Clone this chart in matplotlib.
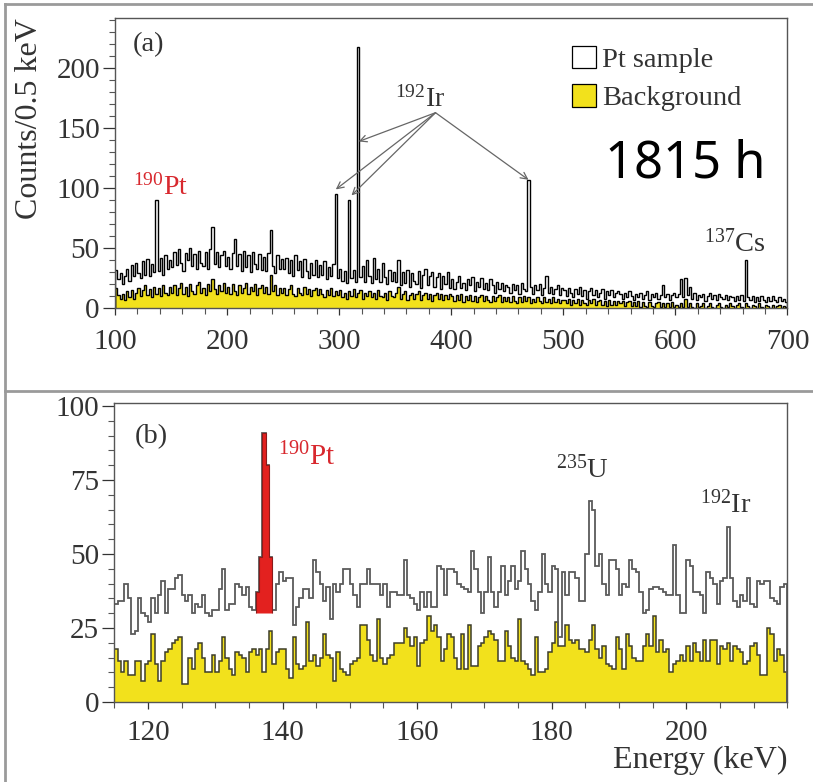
import numpy as np
import matplotlib
matplotlib.use('Agg')
import matplotlib.pyplot as plt
from matplotlib.patches import Patch
from matplotlib.lines import Line2D
from matplotlib.ticker import MultipleLocator

# ---- panel (a): 100-700 keV, values read per 2 keV step (counts / 0.5 keV)
e_a_lo, e_a_hi, e_a_step = 100, 700, 2
pt_a = [
    32, 24, 29, 20, 27, 33, 23, 36, 27, 38, 29, 25, 39, 28, 41, 27, 37, 30, 90, 31, 42, 28, 44, 33, 40,
    34, 47, 36, 49, 38, 31, 46, 40, 50, 35, 45, 33, 48, 38, 35, 47, 33, 49, 68, 37, 47, 34, 44, 48, 35,
    43, 33, 46, 58, 35, 45, 31, 48, 34, 44, 30, 47, 37, 33, 45, 32, 43, 31, 46, 65, 35, 29, 44, 33, 41,
    33, 42, 29, 40, 27, 44, 32, 39, 26, 41, 31, 25, 38, 28, 40, 26, 36, 28, 39, 24, 34, 27, 37, 95, 25,
    33, 23, 31, 21, 90, 25, 32, 22, 218, 26, 35, 22, 40, 27, 21, 42, 24, 33, 22, 38, 26, 20, 32, 23, 30,
    22, 40, 19, 30, 21, 32, 18, 29, 23, 20, 31, 17, 28, 33, 19, 27, 30, 18, 26, 29, 16, 27, 20, 30, 17,
    24, 16, 22, 27, 17, 21, 15, 24, 19, 26, 14, 22, 18, 25, 16, 21, 15, 24, 19, 13, 22, 16, 21, 14, 19,
    18, 13, 20, 15, 19, 12, 21, 16, 14, 107, 18, 12, 19, 15, 20, 11, 17, 27, 13, 18, 12, 16, 19, 11, 17,
    15, 10, 17, 13, 9, 16, 12, 18, 10, 15, 8, 14, 17, 11, 15, 9, 13, 16, 8, 14, 11, 15, 9, 13, 14,
    12, 8, 13, 9, 14, 10, 7, 12, 9, 13, 8, 11, 14, 7, 12, 9, 13, 8, 11, 19, 9, 12, 7, 11, 13,
    9, 12, 24, 9, 25, 11, 18, 8, 13, 7, 11, 9, 12, 6, 10, 13, 8, 11, 7, 12, 9, 8, 11, 7, 10,
    9, 6, 10, 7, 11, 6, 40, 9, 7, 10, 5, 9, 6, 10, 7, 5, 9, 6, 10, 7, 5, 9, 6, 8, 5,
]
bg_a = [
    17, 11, 8, 12, 7, 14, 9, 15, 8, 13, 17, 10, 15, 19, 11, 16, 9, 18, 12, 17, 10, 19, 13, 11, 18,
    13, 19, 11, 17, 21, 12, 18, 10, 20, 14, 12, 19, 22, 13, 17, 11, 20, 14, 24, 16, 12, 19, 14, 21, 13,
    18, 12, 20, 14, 11, 19, 13, 17, 21, 12, 18, 14, 20, 11, 17, 19, 13, 18, 12, 28, 14, 19, 11, 17, 13,
    17, 11, 16, 19, 12, 10, 17, 13, 11, 18, 12, 16, 10, 15, 17, 11, 16, 12, 9, 15, 11, 17, 10, 14, 11,
    15, 9, 13, 8, 14, 10, 16, 9, 13, 15, 8, 13, 10, 14, 9, 13, 8, 15, 10, 9, 13, 7, 14, 10, 9,
    13, 18, 8, 12, 14, 7, 11, 13, 8, 12, 14, 7, 11, 13, 8, 12, 6, 11, 13, 8, 12, 7, 11, 8, 12,
    10, 6, 11, 7, 12, 5, 10, 7, 11, 6, 10, 5, 9, 11, 6, 10, 7, 5, 10, 6, 9, 11, 5, 9, 6,
    9, 5, 10, 6, 4, 9, 5, 10, 6, 9, 4, 8, 5, 9, 6, 4, 9, 5, 8, 4, 9, 5, 8, 4, 7,
    7, 4, 8, 3, 7, 4, 8, 3, 7, 4, 3, 7, 4, 8, 3, 6, 7, 3, 6, 2, 7, 3, 6, 3, 6,
    4, 6, 2, 5, 6, 2, 5, 2, 6, 1, 5, 2, 1, 5, 2, 1, 4, 5, 1, 4, 1, 4, 1, 5, 1,
    3, 1, 4, 1, 8, 1, 4, 1, 0, 4, 1, 2, 4, 0, 2, 4, 1, 0, 3, 4, 1, 0, 3, 1, 4,
    2, 0, 3, 4, 1, 0, 4, 2, 0, 3, 2, 0, 4, 1, 0, 3, 2, 0, 3, 0, 2, 3, 0, 2, 1,
]

# ---- panel (b): 115-215 keV, 0.5 keV bins
e_b_lo, e_b_hi, e_b_step = 115, 215, 0.5
pt_b = [
    33, 34, 34, 40, 35, 23, 24, 35, 30, 29, 27, 35, 30, 36, 41, 30, 38, 38, 42, 43,
    36, 34, 36, 30, 33, 32, 36, 30, 29, 31, 31, 38, 45, 31, 33, 33, 40, 39, 36, 39,
    32, 31, 37, 49, 91, 80, 49, 31, 40, 44,
    41, 42, 42, 26, 32, 35, 38, 38, 35, 48, 44, 40, 34, 39, 28, 40, 37, 40, 45, 45,
    40, 36, 32, 40, 40, 45, 40, 40, 40, 36, 40, 32, 37, 37, 36, 36, 48, 36, 35, 33,
    31, 37, 32, 37, 32, 32, 46, 45, 36, 45,
    45, 44, 40, 39, 38, 37, 51, 45, 37, 30, 37, 49, 37, 32, 37, 46, 36, 41, 46, 38,
    41, 51, 45, 40, 34, 31, 37, 50, 40, 37, 46, 45, 22, 44, 36, 44, 44, 42, 34, 34,
    50, 68, 65, 46, 50, 40, 36, 48, 48, 45,
    36, 40, 39, 48, 45, 44, 37, 30, 31, 38, 39, 39, 38, 37, 36, 36, 53, 36, 30, 30,
    48, 46, 37, 37, 36, 30, 44, 42, 40, 33, 41, 42, 59, 42, 34, 32, 36, 34, 42, 33,
    32, 41, 40, 41, 41, 35, 34, 33, 39, 40,
]
bg_b = [
    18, 14, 10, 14, 9, 9, 14, 14, 7, 13, 14, 23, 13, 7, 14, 17, 18, 20, 21, 22,
    6, 6, 15, 11, 18, 20, 15, 10, 10, 16, 10, 14, 22, 15, 11, 9, 17, 16, 15, 10,
    17, 18, 16, 18, 10, 18, 24, 13, 17, 18,
    18, 11, 8, 22, 13, 11, 12, 27, 14, 16, 12, 15, 23, 16, 15, 7, 17, 11, 10, 9,
    13, 14, 15, 26, 26, 21, 16, 14, 28, 15, 13, 15, 16, 20, 20, 20, 25, 22, 19, 22,
    12, 20, 21, 29, 24, 26, 22, 14, 18, 23,
    22, 15, 11, 23, 11, 26, 12, 12, 19, 20, 22, 24, 23, 21, 14, 14, 24, 19, 15, 14,
    28, 14, 13, 11, 9, 22, 10, 10, 11, 17, 20, 27, 19, 19, 26, 21, 20, 21, 18, 18,
    17, 21, 26, 18, 15, 19, 13, 12, 11, 22,
    18, 11, 23, 19, 15, 14, 14, 19, 23, 19, 29, 17, 21, 17, 18, 10, 13, 14, 16, 14,
    19, 14, 20, 17, 14, 21, 14, 21, 21, 13, 19, 18, 20, 14, 19, 18, 17, 13, 14, 19,
    20, 16, 9, 9, 25, 23, 14, 18, 16, 10,
]
# 190Pt line region highlighted in (b)
pt190_lo, pt190_hi, pt190_base = 136.0, 138.5, 30

# 192Ir lines pointed at in (a): (energy, counts) of the arrow tips
ir_tips = [(317.5, 139), (297, 99), (311, 94)]
ir_tip_right = (469, 107)

YELLOW = '#f2e11c'
RED = '#e3211f'
TXT_RED = '#d8282e'
GRID = '#555555'

plt.rcParams['font.family'] = 'serif'
plt.rcParams['font.serif'] = ['Liberation Serif', 'DejaVu Serif']
plt.rcParams['mathtext.default'] = 'regular'

fig = plt.figure(figsize=(8.13, 7.82), dpi=100)
ax_a = fig.add_axes([0.1415, 0.606, 0.827, 0.371])
ax_b = fig.add_axes([0.1407, 0.1023, 0.8275, 0.3824])

edges_a = np.arange(e_a_lo, e_a_hi + e_a_step / 2, e_a_step)
edges_b = np.arange(e_b_lo, e_b_hi + e_b_step / 2, e_b_step)

# panel (a)
ax_a.stairs(bg_a, edges_a, fill=True, color=YELLOW, lw=0)
ax_a.stairs(pt_a, edges_a, color='black', lw=1.0)
ax_a.stairs(bg_a, edges_a, color='black', lw=1.0)
ax_a.set_xlim(100, 700)
ax_a.set_ylim(0, 242)
ax_a.xaxis.set_major_locator(MultipleLocator(100))
ax_a.xaxis.set_minor_locator(MultipleLocator(20))
ax_a.yaxis.set_major_locator(MultipleLocator(50))
ax_a.yaxis.set_minor_locator(MultipleLocator(10))
ax_a.set_ylabel('Counts/0.5 keV', fontsize=23, color='#333333', loc='top')
ax_a.yaxis.set_label_coords(-0.106, 1.0)

ax_a.text(116, 220, '(a)', fontsize=20.5, color='#333333', ha='left', va='center')
ax_a.text(116, 101, '$^{190}$Pt', fontsize=20, color=TXT_RED, ha='left', va='center')
ax_a.text(372, 174, '$^{192}$Ir', fontsize=20, color='#333333', ha='center', va='center')
ax_a.text(653, 54, '$^{137}$Cs', fontsize=20.5, color='#333333', ha='center', va='center')
apex = (386, 163)
for tip in ir_tips + [ir_tip_right]:
    ax_a.annotate('', xy=tip, xytext=apex,
                  arrowprops=dict(arrowstyle='->', color='#666666', lw=0.9,
                                  shrinkA=0, shrinkB=0, mutation_scale=12))
ax_a.text(0.728, 0.495, '1815 h', transform=ax_a.transAxes, fontsize=36.5,
          family='Noto Sans', ha='left', va='center', color='black')
ax_a.legend(handles=[Patch(facecolor='white', edgecolor='black', lw=0.9),
                     Patch(facecolor=YELLOW, edgecolor='black', lw=0.9)],
            labels=['Pt sample', 'Background'], loc='upper left',
            bbox_to_anchor=(0.68, 0.905), frameon=False, fontsize=20.5,
            handlelength=0.85, handleheight=0.85, handletextpad=0.2,
            labelspacing=0.4, borderpad=0, borderaxespad=0, labelcolor='#333333')

# panel (b)
ax_b.stairs(bg_b, edges_b, fill=True, color=YELLOW, lw=0)
ax_b.stairs(bg_b, edges_b, color='#3d3d2a', lw=1.1)
ax_b.stairs(pt_b, edges_b, color='#5a5a5a', lw=1.3)
i0 = np.searchsorted(edges_b, pt190_lo)
i1 = np.searchsorted(edges_b, pt190_hi)
ax_b.stairs(pt_b[i0:i1], edges_b[i0:i1 + 1], baseline=pt190_base, fill=True,
            facecolor=RED, edgecolor='#8a1a1a', lw=0.8)
ax_b.set_xlim(115, 215)
ax_b.set_ylim(0, 101)
ax_b.xaxis.set_major_locator(MultipleLocator(20))
ax_b.xaxis.set_minor_locator(MultipleLocator(5))
ax_b.yaxis.set_major_locator(MultipleLocator(25))
ax_b.yaxis.set_minor_locator(MultipleLocator(5))
ax_b.set_xlabel('Energy (keV)', fontsize=23, color='#333333', loc='right', labelpad=0)

ax_b.text(118.1, 89.8, '(b)', fontsize=20.5, color='#333333', ha='left', va='center')
ax_b.text(139.3, 82.7, '$^{190}$Pt', fontsize=21, color=TXT_RED, ha='left', va='center')
ax_b.text(184.6, 78.6, '$^{235}$U', fontsize=20.5, color='#333333', ha='center', va='center')
ax_b.text(205.9, 66.8, '$^{192}$Ir', fontsize=20.5, color='#333333', ha='center', va='center')

for ax in (ax_a, ax_b):
    for sp in ax.spines.values():
        sp.set_color(GRID)
        sp.set_linewidth(1.0)
    ax.tick_params(axis='both', which='major', direction='out', labelsize=21,
                   colors='#333333', width=0.9)
    ax.tick_params(axis='y', which='major', length=9, pad=2)
    ax.tick_params(axis='both', which='minor', direction='out', length=4,
                   width=0.8, colors='#555555')
ax_a.tick_params(axis='x', which='major', length=5, pad=10)
ax_b.tick_params(axis='x', which='major', length=5, pad=8)

# outer frame lines of the figure
for xs, ys in [((5 / 813, 5 / 813), (0, 1 - 4 / 782)),
               ((5 / 813, 1), (1 - 4 / 782, 1 - 4 / 782)),
               ((5 / 813, 1), (1 - 391 / 782, 1 - 391 / 782))]:
    fig.add_artist(Line2D(xs, ys, transform=fig.transFigure, color='#9a9a9a', lw=2))

fig.savefig('out.png', dpi=100)
plt.close(fig)
